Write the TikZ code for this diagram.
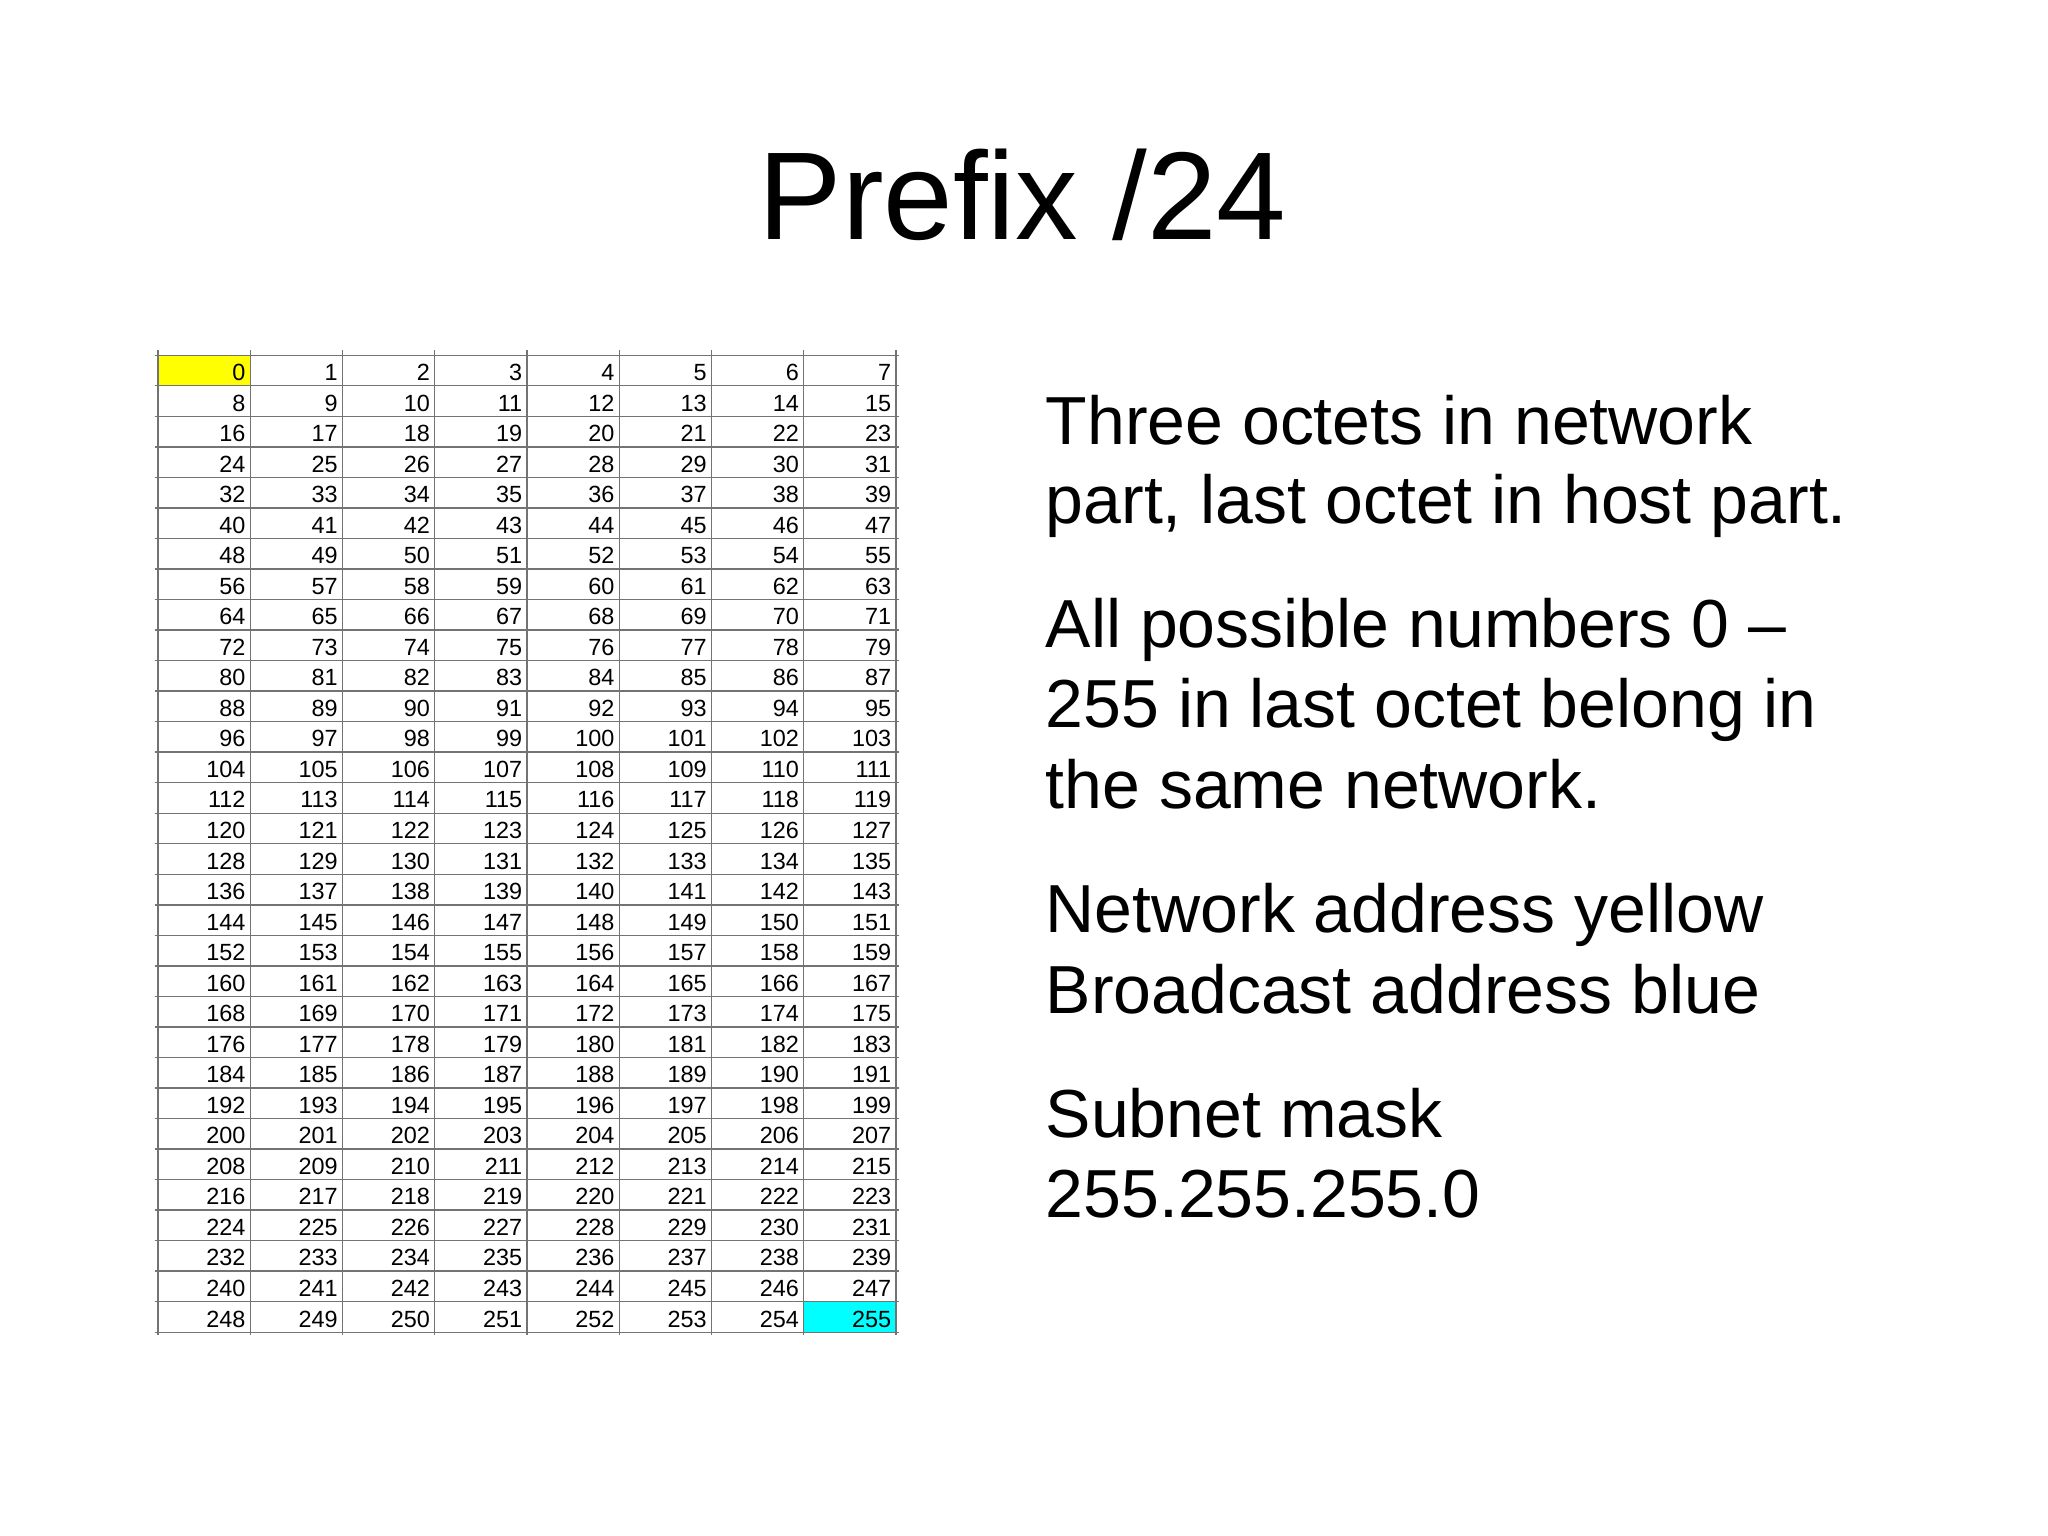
\documentclass[tikz,border=0pt]{standalone}
\usepackage{fontspec}
\setmainfont{Liberation Sans}
\definecolor{bcyan}{RGB}{0,255,255}
\definecolor{nyellow}{RGB}{255,255,0}
\begin{document}
\begin{tikzpicture}[x=0.01cm,y=-0.01cm,
  cell/.style={anchor=base east,inner sep=0pt,font=\fontsize{5.1pt}{6pt}\selectfont},
  body/.style={anchor=base west,inner sep=0pt,font=\fontsize{14.8pt}{18pt}\selectfont},
  grid/.style={draw=black!55,line width=0.3pt}]
\useasboundingbox (0,0) rectangle (1568,1176);
\node[anchor=base,inner sep=0pt,font=\fontsize{27.2pt}{32pt}\selectfont] (title) at (783,183) {Prefix /24};
\fill[nyellow] (121,272) rectangle (191.6,295.4);
\fill[bcyan] (615.4,996.6) rectangle (686,1020);
\foreach \c in {0,...,8} \draw[grid] ({121+\c*70.625},268) -- ({121+\c*70.625},1022);
\foreach \r in {0,...,32} \draw[grid] (119,{272+\r*23.375}) -- (688,{272+\r*23.375});
\foreach \r in {0,...,31}{
  \foreach \c in {0,...,7}{
    \pgfmathtruncatemacro{\v}{\r*8+\c}
    \node[cell] (n\v) at ({121+(\c+1)*70.625-3},{272+(\r+1)*23.375-4}) {\v};
  }
}
\node[body] (t1) at (800,340) {Three octets in network};
\node[body] (t2) at (800,401) {part, last octet in host part.};
\node[body] (t3) at (800,496) {All possible numbers 0 –};
\node[body] (t4) at (800,557) {255 in last octet belong in};
\node[body] (t5) at (800,619) {the same network.};
\node[body] (t6) at (800,714) {Network address yellow};
\node[body] (t7) at (800,776) {Broadcast address blue};
\node[body] (t8) at (800,871) {Subnet mask};
\node[body] (t9) at (800,932) {255.255.255.0};
\end{tikzpicture}
\end{document}
